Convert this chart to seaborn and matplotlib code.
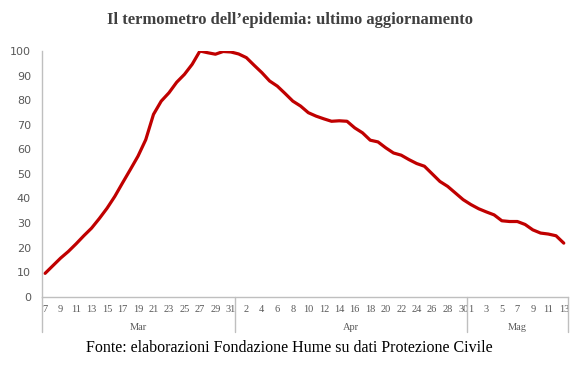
import numpy as np
import pandas as pd
import matplotlib
matplotlib.use('Agg')
import matplotlib.pyplot as plt
import seaborn as sns

sns.set_theme(style='white')

# =============================================
# DATA
# =============================================
mar_days = list(range(7, 32))
apr_days = list(range(1, 31))
mag_days = list(range(1, 14))

mar_values = [9.5, 12.6, 15.7, 18.4, 21.5, 24.8, 27.9, 31.8, 36.0, 40.8, 46.3, 51.7,
              57.2, 63.9, 74.2, 79.6, 83.0, 87.3, 90.5, 94.6, 100.0, 99.3, 98.7, 99.8, 99.6]
apr_values = [98.8, 97.3, 94.2, 91.2, 87.8, 85.7, 82.7, 79.6, 77.6, 74.9, 73.5, 72.4,
              71.4, 71.6, 71.4, 68.7, 66.7, 63.7, 63.0, 60.6, 58.5, 57.6, 55.8, 54.2,
              53.1, 50.0, 46.9, 44.9, 42.2, 39.5]
mag_values = [37.5, 35.8, 34.5, 33.3, 30.9, 30.6, 30.6, 29.4, 27.2, 25.9, 25.5, 24.8, 21.8]

month_names = ['Mar', 'Apr', 'Mag']

df = pd.DataFrame({
    'month': ['Mar'] * len(mar_days) + ['Apr'] * len(apr_days) + ['Mag'] * len(mag_days),
    'day': mar_days + apr_days + mag_days,
    'value': mar_values + apr_values + mag_values,
})
df['idx'] = np.arange(len(df))

# =============================================
# PLOT
# =============================================
fig = plt.figure(figsize=(5.77, 3.71), dpi=100)
ax = fig.add_axes([0.0728, 0.2003, 0.911, 0.6622])

sns.lineplot(data=df, x='idx', y='value', ax=ax, color='#C00000', linewidth=2.3)

ax.set_xlim(-0.4, len(df) - 0.5)
ax.set_ylim(0, 100)
ax.set_yticks(range(0, 101, 10))
ax.set_xlabel('')
ax.set_ylabel('')

# tick labels every other day (as in the source chart)
tick_idx = [i for i, d in zip(df['idx'], df['day'])
            if (d % 2 == 1 and df.loc[i, 'month'] == 'Mar')
            or (d % 2 == 0 and df.loc[i, 'month'] == 'Apr')
            or (d % 2 == 1 and df.loc[i, 'month'] == 'Mag')]
ax.set_xticks(tick_idx)
ax.set_xticklabels([str(df.loc[i, 'day']) for i in tick_idx],
                   fontsize=7.5, color='#595959', family='Liberation Serif')
ax.tick_params(axis='x', length=0, pad=6)
ax.tick_params(axis='y', length=0, pad=8, labelsize=8, labelcolor='#595959')

for side in ['top', 'right']:
    ax.spines[side].set_visible(False)
for side in ['left', 'bottom']:
    ax.spines[side].set_color('#BFBFBF')
    ax.spines[side].set_linewidth(1)

# month separators and month labels below the axis
trans = ax.get_xaxis_transform()
bounds = [-0.4]
for m in month_names:
    sub = df[df['month'] == m]
    bounds.append(sub['idx'].max() + 0.5)
bounds[-1] = len(df) - 0.5
for b in bounds:
    ax.plot([b, b], [0, -0.145], transform=trans, color='#BFBFBF', lw=1, clip_on=False)
for m, lo, hi in zip(month_names, bounds[:-1], bounds[1:]):
    ax.text((lo + hi) / 2, -0.124, m, transform=trans, ha='center', va='center',
            fontsize=7.5, color='#595959', family='Liberation Serif')

fig.text(0.502, 0.945, 'Il termometro dell\u2019epidemia: ultimo aggiornamento',
         ha='center', va='center', fontsize=12, fontweight='bold',
         color='#404040', family='Liberation Serif')
fig.text(0.502, 0.062, 'Fonte: elaborazioni Fondazione Hume su dati Protezione Civile',
         ha='center', va='center', fontsize=11.5, color='black', family='Liberation Serif')

plt.savefig('out.png', dpi=100)
plt.close()
